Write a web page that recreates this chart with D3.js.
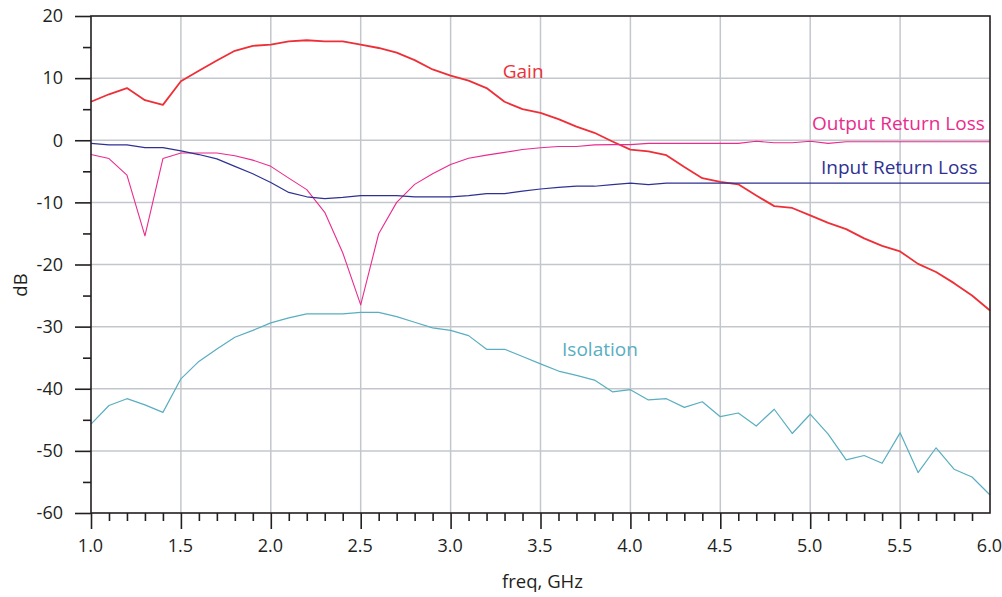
<!DOCTYPE html>
<html>
<head>
<meta charset="utf-8">
<script src="https://cdn.jsdelivr.net/npm/d3@7"></script>
<style>
  html, body { margin: 0; padding: 0; background: #fff; }
  svg { display: block; }
  text { font-family: "Open Sans", "Noto Sans", sans-serif; }
</style>
</head>
<body>
<svg id="chart" width="1002" height="597"></svg>
<script>
const freq = [1.0,1.1,1.2,1.3,1.4,1.5,1.6,1.7,1.8,1.9,
              2.0,2.1,2.2,2.3,2.4,2.5,2.6,2.7,2.8,2.9,
              3.0,3.1,3.2,3.3,3.4,3.5,3.6,3.7,3.8,3.9,
              4.0,4.1,4.2,4.3,4.4,4.5,4.6,4.7,4.8,4.9,
              5.0,5.1,5.2,5.3,5.4,5.5,5.6,5.7,5.8,5.9,6.0];
const gain = [6.2,7.4,8.4,6.45,5.7,9.5,11.2,12.85,14.4,15.2,
              15.4,15.9,16.1,15.9,15.9,15.4,14.85,14.1,12.9,11.4,
              10.4,9.6,8.4,6.2,5.0,4.4,3.4,2.2,1.2,-0.2,
              -1.5,-1.8,-2.4,-4.3,-6.1,-6.7,-7.1,-8.9,-10.6,-10.9,
              -12.1,-13.3,-14.3,-15.8,-17.0,-17.9,-19.9,-21.2,-23.0,-25.0,-27.4];
const inputRL = [-0.5,-0.75,-0.75,-1.2,-1.2,-1.7,-2.3,-3.0,-4.2,-5.4,
                 -6.8,-8.4,-9.1,-9.4,-9.2,-8.9,-8.9,-8.9,-9.1,-9.1,
                 -9.1,-8.9,-8.6,-8.6,-8.2,-7.85,-7.6,-7.4,-7.4,-7.15,
                 -6.9,-7.15,-6.9,-6.9,-6.9,-6.9,-6.9,-6.9,-6.9,-6.9,
                 -6.9,-6.9,-6.9,-6.9,-6.9,-6.9,-6.9,-6.9,-6.9,-6.9,-6.9];
const outputRL = [-2.3,-2.95,-5.6,-15.4,-2.95,-2.05,-2.05,-2.05,-2.5,-3.2,
                  -4.2,-6.1,-7.95,-11.6,-18.1,-26.5,-15.05,-10.0,-7.1,-5.4,
                  -3.9,-2.9,-2.4,-1.95,-1.5,-1.2,-1.0,-1.0,-0.75,-0.7,
                  -0.7,-0.5,-0.5,-0.5,-0.5,-0.5,-0.5,-0.15,-0.4,-0.4,
                  -0.15,-0.5,-0.25,-0.25,-0.25,-0.25,-0.25,-0.25,-0.25,-0.25,-0.25];
const isolation = [-45.7,-42.7,-41.6,-42.6,-43.8,-38.4,-35.6,-33.6,-31.7,-30.6,
                   -29.4,-28.6,-27.95,-27.95,-27.95,-27.7,-27.7,-28.4,-29.3,-30.2,
                   -30.6,-31.45,-33.65,-33.65,-34.8,-36.0,-37.15,-37.85,-38.6,-40.5,
                   -40.15,-41.8,-41.6,-43.0,-42.1,-44.5,-43.9,-46.0,-43.3,-47.2,
                   -44.1,-47.3,-51.45,-50.75,-52.0,-47.1,-53.5,-49.5,-52.95,-54.2,-57.1];
const xTicks = [1.0,1.5,2.0,2.5,3.0,3.5,4.0,4.5,5.0,5.5,6.0];
const xMinorTicks = [1.1,1.2,1.3,1.4,1.6,1.7,1.8,1.9,2.1,2.2,2.3,2.4,2.6,2.7,2.8,2.9,
                     3.1,3.2,3.3,3.4,3.6,3.7,3.8,3.9,4.1,4.2,4.3,4.4,4.6,4.7,4.8,4.9,
                     5.1,5.2,5.3,5.4,5.6,5.7,5.8,5.9];
const yTicks = [-60,-50,-40,-30,-20,-10,0,10,20];
const yMinorTicks = [-55,-45,-35,-25,-15,-5,5,15];
const seriesNames = ["Gain","Output Return Loss","Input Return Loss","Isolation"];
const labelPos = [[3.29,10.0],[5.01,1.6],[5.06,-5.4],[3.62,-34.7]];

const colors = ["#ee2f37","#ea2b8e","#2e3192","#59aec0"];
const widths = [1.8,1.1,1.2,1.2];
const seriesData = [gain, outputRL, inputRL, isolation];

const W = 1002, H = 597;
const m = {left: 91, right: 12, top: 16, bottom: 84};
const x = d3.scaleLinear().domain([1,6]).range([m.left, W - m.right]);
const y = d3.scaleLinear().domain([-60,20]).range([H - m.bottom, m.top]);

const svg = d3.select("#chart");
const axisColor = "#231f20";
const gridColor = "#c3c7cd";

// grid
const grid = svg.append("g");
grid.selectAll("line.vx").data(xTicks.slice(1, -1)).join("line")
  .attr("x1", d => x(d)).attr("x2", d => x(d))
  .attr("y1", y(20)).attr("y2", y(-60))
  .attr("stroke", gridColor).attr("stroke-width", 1.5);
grid.selectAll("line.hy").data(yTicks.slice(1, -1)).join("line")
  .attr("x1", x(1)).attr("x2", x(6))
  .attr("y1", d => y(d)).attr("y2", d => y(d))
  .attr("stroke", gridColor).attr("stroke-width", 1.5);

// lines
const line = d3.line().x((d, i) => x(freq[i])).y(d => y(d));
seriesData.forEach((s, k) => {
  svg.append("path").datum(s)
    .attr("d", line)
    .attr("fill", "none")
    .attr("stroke", colors[k])
    .attr("stroke-width", widths[k])
    .attr("stroke-linejoin", "round");
});

// frame
svg.append("rect")
  .attr("x", x(1)).attr("y", y(20))
  .attr("width", x(6) - x(1)).attr("height", y(-60) - y(20))
  .attr("fill", "none").attr("stroke", axisColor).attr("stroke-width", 1.6);

// y axis
const yAxis = d3.axisLeft(y).tickValues(yTicks).tickSize(16).tickPadding(12).tickFormat(d => String(d));
const gy = svg.append("g").attr("transform", `translate(${x(1)},0)`).call(yAxis);
gy.select(".domain").remove();
gy.selectAll(".tick line").attr("stroke", axisColor).attr("stroke-width", 1.6);
gy.selectAll(".tick text").attr("fill", axisColor).style("font-size", "18px")
  .style("font-family", '"Open Sans", sans-serif');
const yMinor = d3.axisLeft(y).tickValues(yMinorTicks).tickSize(8).tickFormat("");
const gym = svg.append("g").attr("transform", `translate(${x(1)},0)`).call(yMinor);
gym.select(".domain").remove();
gym.selectAll(".tick line").attr("stroke", axisColor).attr("stroke-width", 1.6);

// x axis
const xAxis = d3.axisBottom(x).tickValues(xTicks).tickSize(16).tickPadding(10).tickFormat(d => d.toFixed(1));
const gx = svg.append("g").attr("transform", `translate(0,${y(-60)})`).call(xAxis);
gx.select(".domain").remove();
gx.selectAll(".tick line").attr("stroke", axisColor).attr("stroke-width", 1.6)
  .attr("opacity", d => d === 6 ? 0 : 1);
gx.selectAll(".tick text").attr("fill", axisColor).style("font-size", "18px")
  .style("font-family", '"Open Sans", sans-serif').attr("dx", "-1");
const xMinor = d3.axisBottom(x).tickValues(xMinorTicks).tickSize(8).tickFormat("");
const gxm = svg.append("g").attr("transform", `translate(0,${y(-60)})`).call(xMinor);
gxm.select(".domain").remove();
gxm.selectAll(".tick line").attr("stroke", axisColor).attr("stroke-width", 1.6);

// axis titles
svg.append("text")
  .attr("x", (x(1) + x(6)) / 2 + 2).attr("y", 588)
  .attr("text-anchor", "middle").attr("fill", axisColor)
  .style("font-size", "18.5px").text("freq, GHz");
svg.append("text")
  .attr("transform", `translate(27,${285}) rotate(-90)`)
  .attr("text-anchor", "middle").attr("fill", axisColor)
  .style("font-size", "18.5px").text("dB");

// series labels
seriesNames.forEach((name, k) => {
  svg.append("text")
    .attr("x", x(labelPos[k][0])).attr("y", y(labelPos[k][1]))
    .attr("fill", colors[k]).style("font-size", "19px")
    .text(name);
});
</script>
</body>
</html>
